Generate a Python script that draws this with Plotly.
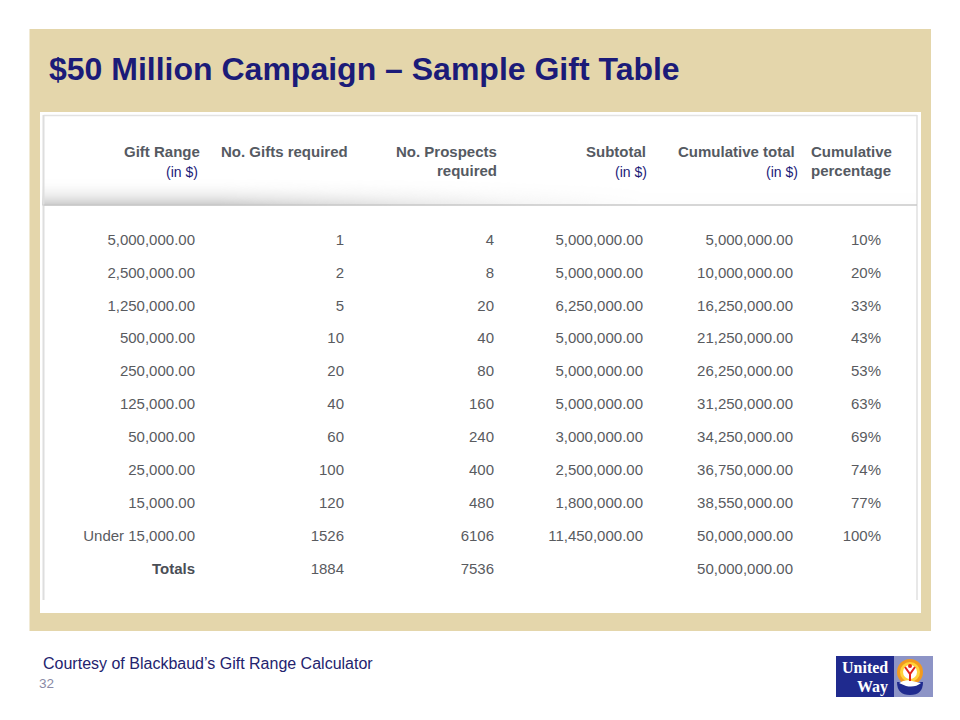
import plotly.graph_objects as go
import numpy as np

# ---------------- data ----------------
title = "$50 Million Campaign \u2013 Sample Gift Table"
gift_range = ["5,000,000.00", "2,500,000.00", "1,250,000.00", "500,000.00", "250,000.00",
              "125,000.00", "50,000.00", "25,000.00", "15,000.00", "Under 15,000.00"]
gifts_required = [1, 2, 5, 10, 20, 40, 60, 100, 120, 1526]
prospects_required = [4, 8, 20, 40, 80, 160, 240, 400, 480, 6106]
subtotal = [5000000, 5000000, 6250000, 5000000, 5000000, 5000000, 3000000, 2500000, 1800000, 11450000]
cumulative_total = [5000000, 10000000, 16250000, 21250000, 26250000, 31250000, 34250000,
                    36750000, 38550000, 50000000]
cumulative_pct = [10, 20, 33, 43, 53, 63, 69, 74, 77, 100]
totals_label = "Totals"
total_gifts = 1884
total_prospects = 7536
total_cumulative = 50000000
footer = "Courtesy of Blackbaud\u2019s Gift Range Calculator"
page_no = "32"

# ---------------- style ----------------
FONT = "Liberation Sans, Arial, sans-serif"
NAVY = "#1b1b78"
HEAD_GRAY = "#555a62"
DATA_GRAY = "#595b5f"
BEIGE = "#e4d6ab"

ROW_Y0 = 241
ROW_H = 32.9
PAGE_MARGIN = 8  # default body margin of the html page

fig = go.Figure()

# header gradient (decorative)
gx = np.arange(44, 918, 4)
gy = np.arange(172, 206, 1)
vy = ((gy - 172) / 33.0) ** 1.4
hx = np.clip((640 - gx) / 420.0, 0, 1) ** 0.8
gz = np.outer(vy, hx) * 0.8 + np.outer(vy, np.ones_like(gx)) * 0.2
fig.add_trace(go.Heatmap(x=gx, y=gy, z=gz, zmin=0, zmax=1, zsmooth="best",
                         colorscale=[[0, "rgba(255,255,255,0)"], [1, "#c6c6c6"]],
                         showscale=False, hoverinfo="skip"))

n = len(gift_range)
row_y = [ROW_Y0 + i * ROW_H for i in range(n)]
tot_y = ROW_Y0 + n * ROW_H


def col(xr, labels, ys, color=DATA_GRAY):
    fig.add_trace(go.Scatter(
        x=[xr] * len(labels), y=ys, mode="text", text=labels,
        textposition="middle left", hoverinfo="skip", showlegend=False,
        textfont=dict(family=FONT, size=15, color=color)))


col(195, gift_range, row_y)
col(344, [str(v) for v in gifts_required] + [str(total_gifts)], row_y + [tot_y])
col(494, [str(v) for v in prospects_required] + [str(total_prospects)], row_y + [tot_y])
col(643, [f"{v:,.2f}" for v in subtotal], row_y)
col(793, [f"{v:,.2f}" for v in cumulative_total] + [f"{total_cumulative:,.2f}"], row_y + [tot_y])
col(881, [f"{v}%" for v in cumulative_pct], row_y)
col(195, ["<b>" + totals_label + "</b>"], [tot_y], color="#4a4e56")

shapes = [
    dict(type="rect", x0=29.5, x1=931, y0=29, y1=631, fillcolor=BEIGE, line_width=0, layer="below"),
    dict(type="rect", x0=40, x1=921, y0=112, y1=613, fillcolor="white", line_width=0, layer="below"),
    # table frame
    dict(type="line", x0=43.5, x1=917, y0=115.5, y1=115.5, line=dict(color="#e2e2e2", width=1.5)),
    dict(type="line", x0=43.5, x1=43.5, y0=115, y1=600, line=dict(color="#dedede", width=2)),
    dict(type="line", x0=917, x1=917, y0=115, y1=600, line=dict(color="#e0e0e0", width=1.5)),
    dict(type="line", x0=43.5, x1=917, y0=205, y1=205, line=dict(color="#c8c8c8", width=1.5)),
    # logo
    dict(type="rect", x0=836, x1=894, y0=656, y1=697, fillcolor="#1f2a8e", line_width=0),
    dict(type="rect", x0=894, x1=933, y0=656, y1=697, fillcolor="#8d94c6", line_width=0),
    dict(type="circle", x0=897, x1=923, y0=659, y1=685, fillcolor="#f39a1e", line_width=0),
    dict(type="circle", x0=900, x1=920, y0=662, y1=682, fillcolor="#ffd33a", line_width=0),
    dict(type="circle", x0=903, x1=917, y0=665, y1=679, fillcolor="white", line_width=0),
    dict(type="path", path="M 897 682 Q 897 695 910 695 Q 923 695 923 682 Z",
         fillcolor="#1f2a8e", line_width=0),
    dict(type="path", path="M 899 683 Q 905 679 912 681 L 921 683 Q 915 688 906 686 Z",
         fillcolor="white", line_width=0),
    dict(type="path", path="M 905 667 L 910 674 L 915 667 M 910 674 L 910 681",
         line=dict(color="#e2231a", width=2)),
    dict(type="circle", x0=908, x1=912, y0=664, y1=668, fillcolor="#e2231a", line_width=0),
]

ann = []


def text(x, y, s, size, color, anchor="left", bold=False, family=FONT):
    ann.append(dict(x=x, y=y, xref="x", yref="y", text=("<b>%s</b>" % s) if bold else s,
                    showarrow=False, xanchor=anchor, yanchor="middle",
                    font=dict(family=family, size=size, color=color)))


text(47, 69, title, 32, NAVY, bold=True)
# headers
text(202, 151, "Gift Range", 15, HEAD_GRAY, "right", True)
text(200, 172, "(in $)", 14, NAVY, "right")
text(219, 151, "No. Gifts required", 15, HEAD_GRAY, "left", True)
text(499, 151, "No. Prospects", 15, HEAD_GRAY, "right", True)
text(499, 170, "required", 15, HEAD_GRAY, "right", True)
text(648, 151, "Subtotal", 15, HEAD_GRAY, "right", True)
text(649, 172, "(in $)", 14, NAVY, "right")
text(797, 151, "Cumulative total", 15, HEAD_GRAY, "right", True)
text(800, 172, "(in $)", 14, NAVY, "right")
text(809, 151, "Cumulative", 15, HEAD_GRAY, "left", True)
text(809, 170, "percentage", 15, HEAD_GRAY, "left", True)
# footer
text(41, 663, footer, 16, "#23236e")
text(37, 683, page_no, 13.5, "#8a8aa6")
# logo text
text(890, 667, "United", 16, "white", "right", True, "Liberation Serif, serif")
text(890, 687, "Way", 16, "white", "right", True, "Liberation Serif, serif")

W, H = 960 - PAGE_MARGIN, 720 - PAGE_MARGIN
fig.update_layout(
    width=W, height=H, margin=dict(l=0, r=0, t=0, b=0),
    paper_bgcolor="white", plot_bgcolor="white", showlegend=False,
    xaxis=dict(range=[PAGE_MARGIN, 960], visible=False, fixedrange=True),
    yaxis=dict(range=[720, PAGE_MARGIN], visible=False, fixedrange=True),
    shapes=shapes, annotations=ann,
)

fig.write_html("out.html")
